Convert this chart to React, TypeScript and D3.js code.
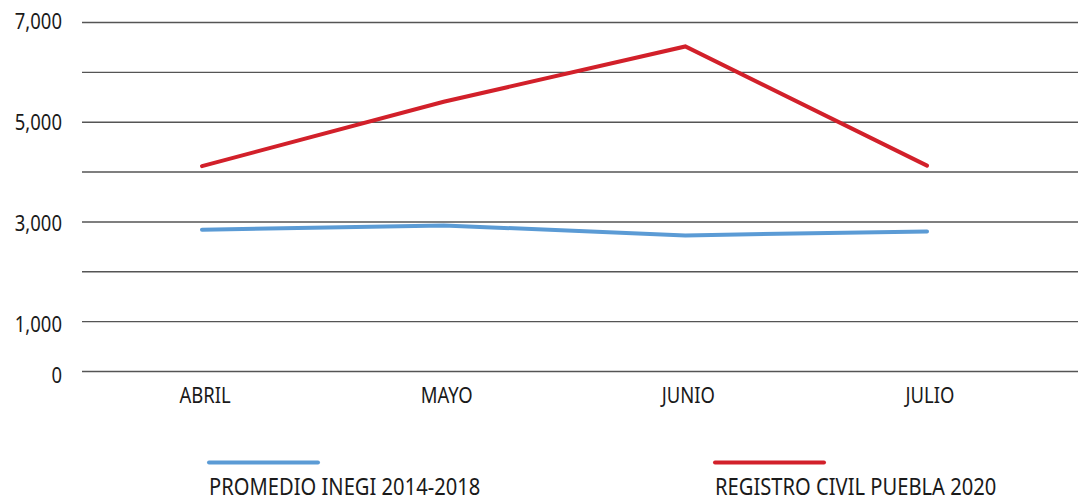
import React from "react";
import * as d3 from "d3";

// months on the x axis
const months = ["ABRIL", "MAYO", "JUNIO", "JULIO"];
// average deaths, INEGI 2014-2018
const inegiValues = [2845, 2930, 2730, 2810];
// deaths recorded by Registro Civil Puebla, 2020
const registroValues = [4120, 5410, 6520, 4130];
// gridlines every thousand, labels only on some
const gridTicks = [0, 1000, 2000, 3000, 4000, 5000, 6000, 7000];
const labelTicks = [0, 1000, 3000, 5000, 7000];

const seriesNames = ["PROMEDIO INEGI 2014-2018", "REGISTRO CIVIL PUEBLA 2020"];
const seriesColors = ["#5b9bd5", "#d2202a"];

const width = 1078;
const height = 497;
const font = "'Noto Sans', 'Open Sans', sans-serif";
const squeeze = 0.84; // fake a condensed face

// text drawn narrower than the font normally is
function Label({ x, y, anchor = "start", size, children }) {
    return (
        <text transform={`translate(${x},${y}) scale(${squeeze},1)`} textAnchor={anchor}
            fontFamily={font} fontSize={size} fill="#1a1a1a">
            {children}
        </text>
    );
}

export default function App() {
    const x = d3.scalePoint<string>()
        .domain(months)
        .range([202, 927]);

    const y = d3.scaleLinear()
        .domain([0, 7000])
        .range([371.5, 22.5]);

    // the tick labels sit a bit below their gridlines
    const yLabel = d3.scaleLinear()
        .domain([0, 7000])
        .range([383, 29]);

    const fmt = d3.format(",");

    const line = d3.line<number>()
        .x((d, i) => x(months[i]) as number)
        .y((d) => y(d));

    const series = [inegiValues, registroValues];

    return (
        <svg width={width} height={height}
            style={{ position: "absolute", left: 0, top: 0, background: "#fff" }}>
            <g>
                {
                    gridTicks.map((t) => (
                        <line key={t} x1={82} x2={width} y1={y(t)} y2={y(t)}
                            stroke="#555" strokeWidth={1.4} />
                    ))
                }
                {
                    labelTicks.map((t) => (
                        <Label key={t} x={62} y={yLabel(t)} anchor="end" size={22}>
                            {fmt(t)}
                        </Label>
                    ))
                }
            </g>
            <g>
                {
                    months.map((m) => (
                        <Label key={m} x={(x(m) as number) + 3} y={403} anchor="middle" size={22}>
                            {m}
                        </Label>
                    ))
                }
            </g>
            <g>
                {
                    series.map((s, i) => (
                        <path key={i} d={line(s) as string} fill="none"
                            stroke={seriesColors[i]} strokeWidth={4}
                            strokeLinecap="round" strokeLinejoin="miter" />
                    ))
                }
            </g>
            <g>
                {
                    seriesNames.map((name, i) => {
                        const lx = i === 0 ? 209 : 715;
                        return (
                            <g key={name}>
                                <line x1={lx} x2={lx + 109} y1={462.5} y2={462.5}
                                    stroke={seriesColors[i]} strokeWidth={4} strokeLinecap="round" />
                                <Label x={lx} y={495} size={24}>
                                    {name}
                                </Label>
                            </g>
                        );
                    })
                }
            </g>
        </svg>
    );
}
